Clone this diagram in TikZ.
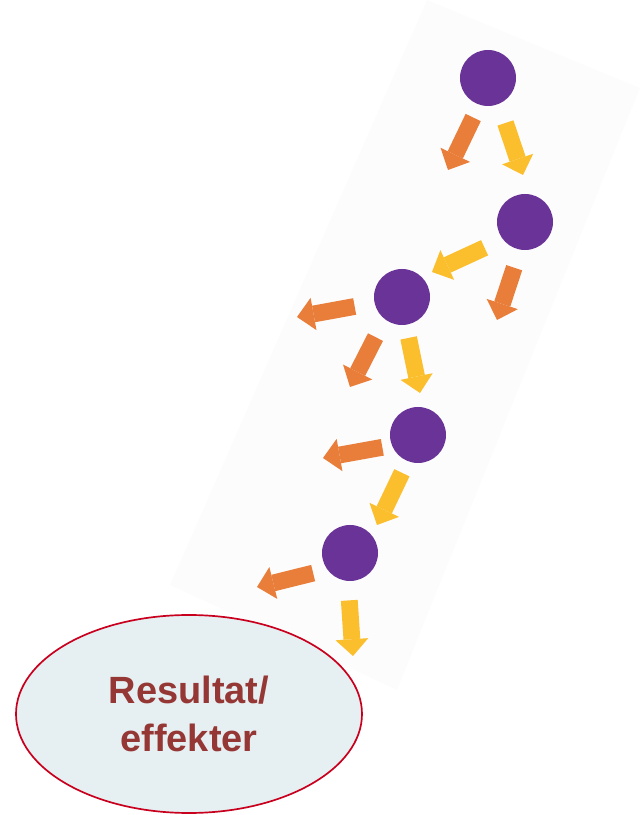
\documentclass[tikz,border=0pt]{standalone}
\usepackage{fontspec}
\setmainfont{Liberation Sans}
\usepackage{xcolor}
\usetikzlibrary{arrows.meta,shapes.geometric}
\definecolor{dotpurple}{HTML}{6A3398}
\definecolor{arrorange}{HTML}{E87E3A}
\definecolor{arryellow}{HTML}{FBBE2D}
\definecolor{bandgray}{HTML}{FCFCFC}
\definecolor{resfill}{HTML}{E6EFF1}
\definecolor{resline}{HTML}{C8001E}
\definecolor{restext}{HTML}{953735}

\begin{document}
\begin{tikzpicture}[
    dot/.style={circle, fill=dotpurple, minimum size=1.4cm, inner sep=0pt},
    blockarr/.style={line width=0.42cm,
        -{Triangle[width=0.82cm, length=0.42cm, line width=0pt]}},
    orangearr/.style={blockarr, draw=arrorange},
    yellowarr/.style={blockarr, draw=arryellow}]
    \useasboundingbox (0,0) rectangle (16,20.375);
    % tilted band behind the steps
    \fill[bandgray] (10.675,20.375) -- (16,18.175) -- (9.925,3.125)
        -- (4.25,5.75) -- cycle;

    \node[ellipse, draw=resline, line width=1.2pt, fill=resfill,
        minimum width=8.65cm, minimum height=4.95cm, align=center,
        text=restext, font=\fontsize{27}{34}\selectfont\bfseries]
        (result) at (4.725,2.525) {Resultat/\\effekter};

    \node[dot] (c1) at (12.2,18.425) {};
    \node[dot] (c2) at (13.125,14.825) {};
    \node[dot] (c3) at (10.05,12.95) {};
    \node[dot] (c4) at (10.45,9.5) {};
    \node[dot] (c5) at (8.75,6.55) {};

    \coordinate (c1-or) at (11.2,16.125);
    \coordinate (c1-ye) at (13.075,16.0);
    \coordinate (c2-ye) at (10.8,13.575);
    \coordinate (c2-or) at (12.425,12.375);
    \coordinate (c3-left) at (7.425,12.45);
    \coordinate (c3-or) at (8.75,10.7);
    \coordinate (c3-ye) at (10.5,10.55);
    \coordinate (c4-left) at (8.075,8.925);
    \coordinate (c4-ye) at (9.425,7.25);
    \coordinate (c5-left) at (6.425,5.7);
    \coordinate (c5-ye) at (8.825,3.975);

    \draw[orangearr, shorten <=0.35cm] (c1.252) -- (c1-or);
    \draw[yellowarr, shorten <=0.5cm] (c1.293) -- (c1-ye);
    \draw[yellowarr, shorten <=0.5cm] (c2.218) -- (c2-ye);
    \draw[orangearr, shorten <=0.47cm] (c2.260) -- (c2-or);
    \draw[orangearr, shorten <=0.5cm] (c3.192) -- (c3-left);
    \draw[orangearr, shorten <=0.5cm] (c3.232) -- (c3-or);
    \draw[yellowarr, shorten <=0.33cm] (c3.278) -- (c3-ye);
    \draw[orangearr, shorten <=0.24cm] (c4.202) -- (c4-left);
    \draw[yellowarr, shorten <=0.32cm] (c4.248) -- (c4-ye);
    \draw[orangearr, shorten <=0.36cm] (c5.216) -- (c5-left);
    \draw[yellowarr, shorten <=0.48cm] (c5.266) -- (c5-ye);
\end{tikzpicture}
\end{document}
